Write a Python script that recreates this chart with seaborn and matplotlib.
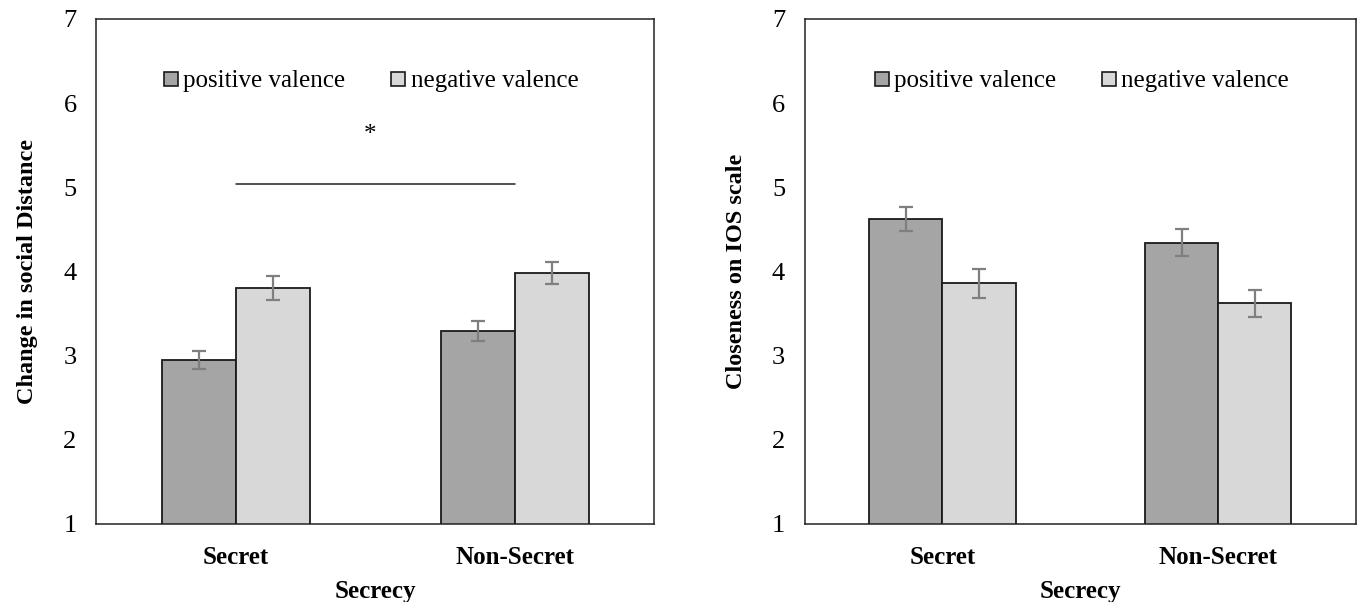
import numpy as np
import pandas as pd
import matplotlib
matplotlib.use("Agg")
import matplotlib.pyplot as plt
import seaborn as sns

# data
secrecy = ["Secret", "Non-Secret"]
valence = ["positive valence", "negative valence"]

distance_pos = [2.95, 3.29]
distance_neg = [3.80, 3.98]
distance_pos_err = [0.11, 0.12]
distance_neg_err = [0.14, 0.13]

ios_pos = [4.62, 4.34]
ios_neg = [3.86, 3.62]
ios_pos_err = [0.14, 0.16]
ios_neg_err = [0.17, 0.16]

yticks = [1, 2, 3, 4, 5, 6, 7]
sig_y = 5.04
sig_label = "*"

colors = {"positive valence": "#a5a5a5", "negative valence": "#d8d8d8"}

sns.set_theme(style="white")
plt.rcParams["font.family"] = ["Liberation Serif", "DejaVu Serif"]
plt.rcParams.update({
    "text.color": "black",
    "axes.labelcolor": "black",
    "xtick.color": "black",
    "ytick.color": "black",
})


def make_frame(pos, neg):
    rows = []
    for i, cat in enumerate(secrecy):
        rows.append({"Secrecy": cat, "Valence": valence[0], "value": pos[i]})
        rows.append({"Secrecy": cat, "Valence": valence[1], "value": neg[i]})
    return pd.DataFrame(rows)


def draw_panel(ax, pos, neg, pos_err, neg_err, ylabel, legend_x=0.5):
    df = make_frame(pos, neg)
    sns.barplot(
        data=df, x="Secrecy", y="value", hue="Valence",
        order=secrecy, hue_order=valence, palette=colors,
        errorbar=None, width=0.53, edgecolor="#1a1a1a", linewidth=1.3,
        ax=ax,
    )
    # error bars at bar centres, grouped by hue
    errs = [pos_err, neg_err]
    vals = [pos, neg]
    bars = list(ax.containers)
    for h, cont in enumerate(bars):
        xs = [p.get_x() + p.get_width() / 2 for p in cont.patches]
        ax.errorbar(xs, vals[h], yerr=errs[h], fmt="none", ecolor="#7f7f7f",
                    elinewidth=1.6, capsize=5, capthick=1.6, zorder=5)

    ax.set_ylim(1, 7)
    ax.set_xlim(-0.5, 1.5)
    ax.set_yticks(yticks)
    ax.tick_params(axis="y", labelsize=19, length=0, pad=14)
    ax.tick_params(axis="x", labelsize=18, length=0, pad=16)
    for lab in ax.get_xticklabels():
        lab.set_fontweight("bold")
    ax.set_xlabel("Secrecy", fontsize=18, fontweight="bold", labelpad=8)
    ax.set_ylabel(ylabel, fontsize=17.5, fontweight="bold", labelpad=18)
    for sp in ax.spines.values():
        sp.set_visible(True)
        sp.set_color("#222222")
        sp.set_linewidth(1.1)

    handles = [plt.Line2D([], [], marker="s", linestyle="none", markersize=10,
                          markerfacecolor=colors[v], markeredgecolor="#1a1a1a",
                          markeredgewidth=1.2) for v in valence]
    ax.legend(handles, valence, loc="center", bbox_to_anchor=(legend_x, 0.877),
              ncol=2, frameon=False, fontsize=18, handletextpad=0.1,
              columnspacing=1.7, handlelength=0.8)
    return bars


fig = plt.figure(figsize=(13.59, 6.02), dpi=100)
ax1 = fig.add_axes([0.0706, 0.1296, 0.411, 0.839])
ax2 = fig.add_axes([0.592, 0.1296, 0.406, 0.839])

bars1 = draw_panel(ax1, distance_pos, distance_neg, distance_pos_err,
                   distance_neg_err, "Change in social Distance", legend_x=0.49)
draw_panel(ax2, ios_pos, ios_neg, ios_pos_err, ios_neg_err,
           "Closeness on IOS scale")

# significance line spans the two group centres on the left panel
ax1.plot([0, 1], [sig_y, sig_y], color="#222222", linewidth=1.1)
ax1.text(0.48, sig_y + 0.58, sig_label, ha="center", va="center", fontsize=18)

fig.savefig("out.png", dpi=100)
